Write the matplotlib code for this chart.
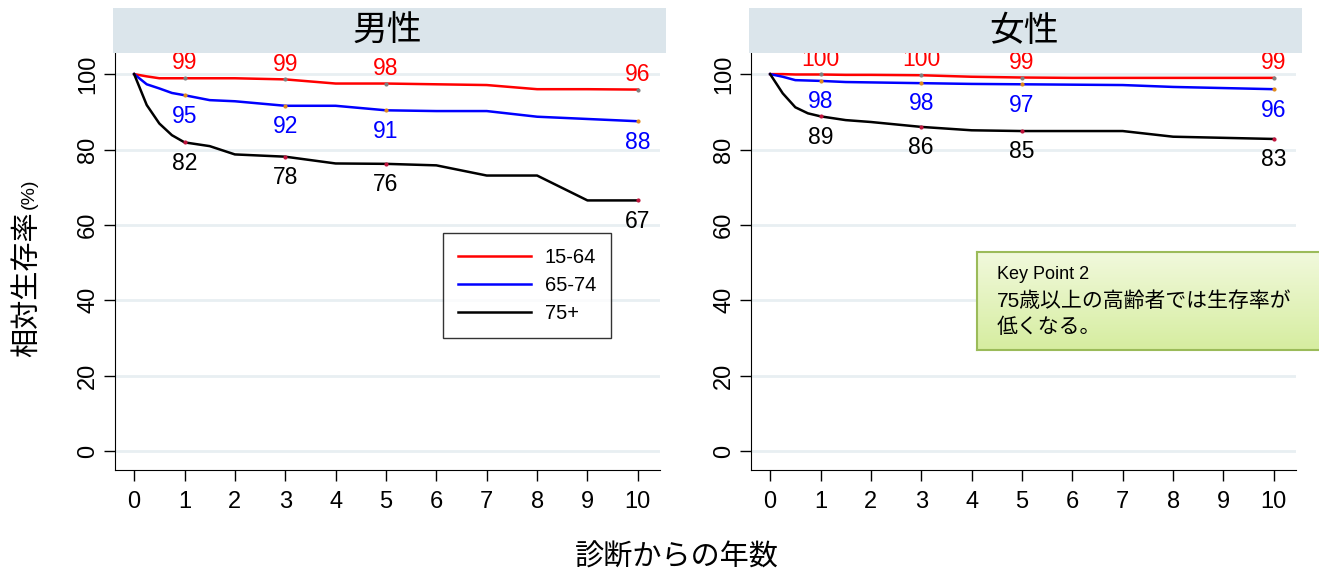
"""
Relative survival by age group, male / female (recreated chart)
"""

import matplotlib.pyplot as plt
import numpy as np
from matplotlib.colors import LinearSegmentedColormap
from matplotlib.patches import Rectangle

plt.rcParams["font.family"] = ["Liberation Sans", "Noto Sans CJK JP", "DejaVu Sans"]

# years since diagnosis
years = [0, 0.25, 0.5, 0.75, 1, 1.5, 2, 3, 4, 5, 6, 7, 8, 9, 10]

# male
male_1564 = [100, 99.4, 98.9, 98.9, 98.9, 98.9, 98.9, 98.6, 97.5, 97.5, 97.3, 97.1, 96.0, 96.0, 95.9]
male_6574 = [100, 97.3, 96.2, 95.0, 94.4, 93.1, 92.8, 91.6, 91.6, 90.4, 90.2, 90.2, 88.7, 88.1, 87.5]
male_75 = [100, 91.8, 86.9, 83.8, 81.9, 80.9, 78.7, 78.1, 76.3, 76.2, 75.8, 73.1, 73.1, 66.5, 66.5]

# female
female_1564 = [100, 100, 99.9, 99.9, 99.9, 99.8, 99.8, 99.7, 99.3, 99.1, 99.0, 99.0, 99.0, 99.0, 99.0]
female_6574 = [100, 99.3, 98.4, 98.3, 98.2, 97.9, 97.8, 97.6, 97.4, 97.3, 97.2, 97.1, 96.6, 96.3, 96.0]
female_75 = [100, 94.9, 91.2, 89.6, 88.8, 87.8, 87.3, 86.0, 85.1, 84.9, 84.9, 84.9, 83.4, 83.1, 82.8]

label_years = [1, 3, 5, 10]
male_labels = {"15-64": [99, 99, 98, 96], "65-74": [95, 92, 91, 88], "75+": [82, 78, 76, 67]}
female_labels = {"15-64": [100, 100, 99, 99], "65-74": [98, 98, 97, 96], "75+": [89, 86, 85, 83]}

groups = ["15-64", "65-74", "75+"]
colors = {"15-64": "#ff0000", "65-74": "#0000ff", "75+": "#000000"}
dot_colors = {"15-64": "#808080", "65-74": "#e08a1e", "75+": "#c0143c"}
label_offsets = {"15-64": 11, "65-74": -15, "75+": -15}

fig = plt.figure(figsize=(13.19, 5.78), dpi=100)
ax_m = fig.add_axes([115 / 1319, 1 - 470 / 578, 545 / 1319, 417 / 578])
ax_f = fig.add_axes([751 / 1319, 1 - 470 / 578, 545 / 1319, 417 / 578])


def draw_panel(ax, series, labels, title):
    for g, vals in zip(groups, series):
        ax.plot(years, vals, color=colors[g], lw=1.8, label=g, zorder=3)
        pts = [vals[years.index(x)] for x in label_years]
        ax.plot(label_years, pts, "o", ms=2, color=dot_colors[g], zorder=4)
        for x, y, txt in zip(label_years, pts, labels[g]):
            ax.annotate(
                str(txt), (x, y), xytext=(0, label_offsets[g]), textcoords="offset points",
                ha="center", va="center", fontsize=16.5, color=colors[g], zorder=5,
            )

    ax.set_xlim(-0.38, 10.44)
    ax.set_ylim(-5, 105.6)
    ax.set_xticks(range(11))
    ax.set_yticks(range(0, 101, 20))
    ax.tick_params(axis="both", labelsize=17, length=8, width=1, direction="out")
    ax.tick_params(axis="x", pad=7)
    for lab in ax.get_yticklabels():
        lab.set_rotation(90)
        lab.set_va("center")
    ax.grid(axis="y", color="#e8eff2", lw=2, zorder=0)
    ax.spines["top"].set_visible(False)
    ax.spines["right"].set_visible(False)

    # strip title, drawn over the value labels like the original
    ax.add_patch(Rectangle((-0.004, 1.0), 1.015, 45 / 417, transform=ax.transAxes,
                           facecolor="#dbe5eb", edgecolor="none", clip_on=False, zorder=10))
    ax.text(0.5, 1.0 + 22 / 417, title, transform=ax.transAxes, ha="center",
            va="center", fontsize=25, zorder=11)


draw_panel(ax_m, [male_1564, male_6574, male_75], male_labels, "男性")
draw_panel(ax_f, [female_1564, female_6574, female_75], female_labels, "女性")

leg = ax_m.legend(loc="upper left", bbox_to_anchor=(0.602, 0.568), fontsize=14.5,
                  frameon=True, fancybox=False, edgecolor="black", handlelength=3.6,
                  borderpad=0.75, labelspacing=0.45, handletextpad=0.7, borderaxespad=0)
leg.get_frame().set_linewidth(1)

fig.text(27 / 1319, 1 - 284 / 578, "相対生存率", rotation=90, ha="center",
         va="center", fontsize=21)
fig.text(29 / 1319, 1 - 194 / 578, "(%)", rotation=90, ha="center",
         va="center", fontsize=14)
fig.text(677 / 1319, 1 - 558 / 578, "診断からの年数", ha="center", va="center",
         fontsize=21)

# key point box
ax_k = fig.add_axes([977 / 1319, 1 - 350 / 578, 345 / 1319, 98 / 578])
grad = np.linspace(0, 1, 100).reshape(-1, 1)
ax_k.imshow(grad, aspect="auto", extent=(0, 1, 0, 1),
            cmap=LinearSegmentedColormap.from_list("kp", ["#f1f9dc", "#d6eda0"]))
ax_k.set_xticks([])
ax_k.set_yticks([])
for s in ax_k.spines.values():
    s.set_color("#9bbb59")
    s.set_linewidth(1.5)
ax_k.text(0.058, 0.77, "Key Point 2", fontsize=13, va="center", ha="left")
ax_k.text(0.058, 0.5, "75歳以上の高齢者では生存率が", fontsize=15, va="center", ha="left")
ax_k.text(0.058, 0.23, "低くなる。", fontsize=15, va="center", ha="left")

fig.savefig("out.png", dpi=100)
